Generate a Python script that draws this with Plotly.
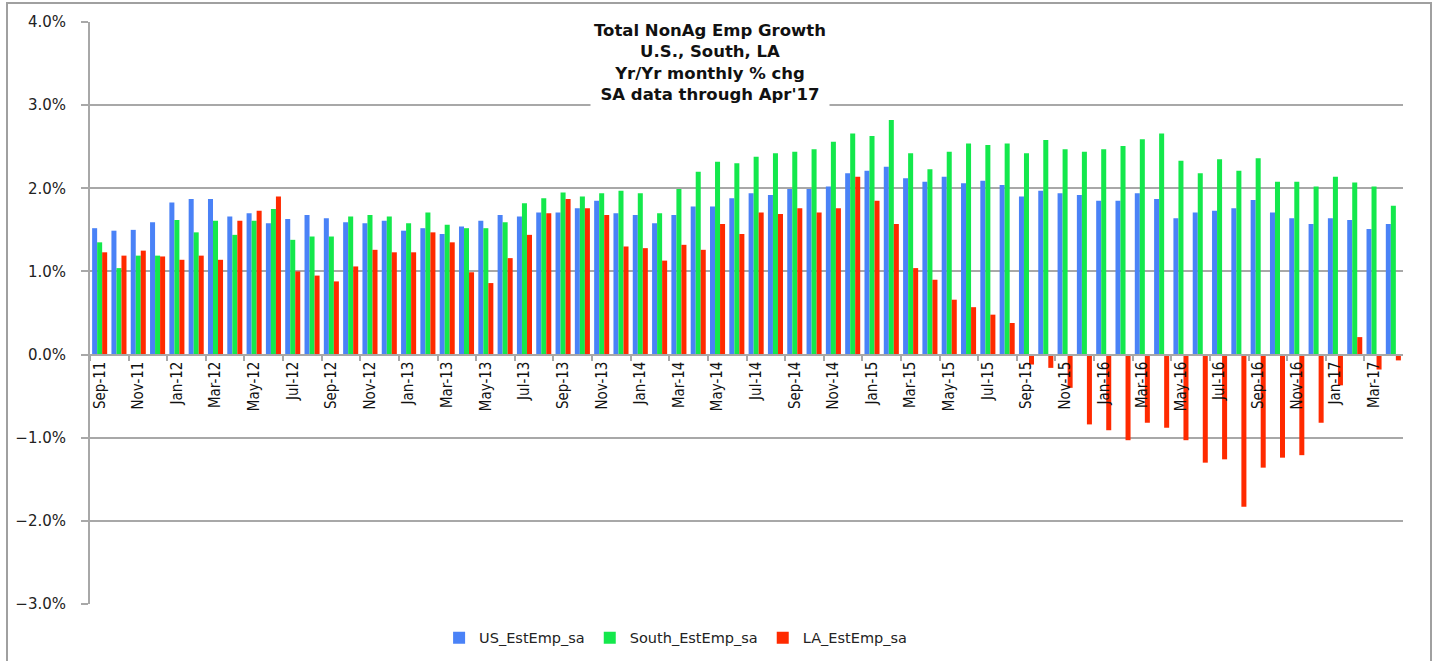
import plotly.graph_objects as go

months = [
    "Sep-11", "Oct-11", "Nov-11", "Dec-11",
    "Jan-12", "Feb-12", "Mar-12", "Apr-12", "May-12", "Jun-12", "Jul-12", "Aug-12", "Sep-12", "Oct-12", "Nov-12", "Dec-12",
    "Jan-13", "Feb-13", "Mar-13", "Apr-13", "May-13", "Jun-13", "Jul-13", "Aug-13", "Sep-13", "Oct-13", "Nov-13", "Dec-13",
    "Jan-14", "Feb-14", "Mar-14", "Apr-14", "May-14", "Jun-14", "Jul-14", "Aug-14", "Sep-14", "Oct-14", "Nov-14", "Dec-14",
    "Jan-15", "Feb-15", "Mar-15", "Apr-15", "May-15", "Jun-15", "Jul-15", "Aug-15", "Sep-15", "Oct-15", "Nov-15", "Dec-15",
    "Jan-16", "Feb-16", "Mar-16", "Apr-16", "May-16", "Jun-16", "Jul-16", "Aug-16", "Sep-16", "Oct-16", "Nov-16", "Dec-16",
    "Jan-17", "Feb-17", "Mar-17", "Apr-17",
]

us_emp = [
    1.52, 1.49, 1.50, 1.59,
    1.83, 1.87, 1.87, 1.66, 1.70, 1.58, 1.63, 1.68, 1.64, 1.59, 1.58, 1.61,
    1.49, 1.52, 1.45, 1.54, 1.61, 1.68, 1.66, 1.71, 1.71, 1.76, 1.85, 1.70,
    1.68, 1.58, 1.68, 1.78, 1.78, 1.88, 1.94, 1.92, 1.99, 1.99, 2.02, 2.18,
    2.21, 2.26, 2.12, 2.08, 2.14, 2.06, 2.09, 2.04, 1.90, 1.97, 1.94, 1.92,
    1.85, 1.85, 1.94, 1.87, 1.64, 1.71, 1.73, 1.76, 1.86, 1.71, 1.64, 1.57,
    1.64, 1.62, 1.51, 1.57,
]

south_emp = [
    1.35, 1.04, 1.19, 1.19,
    1.62, 1.47, 1.61, 1.44, 1.61, 1.75, 1.38, 1.42, 1.42, 1.66, 1.68, 1.66,
    1.58, 1.71, 1.56, 1.52, 1.52, 1.59, 1.82, 1.88, 1.95, 1.90, 1.94, 1.97,
    1.94, 1.70, 1.99, 2.20, 2.32, 2.30, 2.38, 2.42, 2.44, 2.47, 2.56, 2.66,
    2.63, 2.82, 2.42, 2.23, 2.44, 2.54, 2.52, 2.54, 2.42, 2.58, 2.47, 2.44,
    2.47, 2.51, 2.59, 2.66, 2.33, 2.18, 2.35, 2.21, 2.36, 2.08, 2.08, 2.02,
    2.14, 2.07, 2.02, 1.79,
]

la_emp = [
    1.23, 1.19, 1.25, 1.18,
    1.14, 1.19, 1.14, 1.61, 1.73, 1.90, 1.00, 0.95, 0.88, 1.06, 1.26, 1.23,
    1.23, 1.47, 1.35, 0.99, 0.86, 1.16, 1.44, 1.70, 1.87, 1.76, 1.68, 1.30,
    1.28, 1.13, 1.32, 1.26, 1.57, 1.45, 1.71, 1.69, 1.76, 1.71, 1.76, 2.14,
    1.85, 1.57, 1.04, 0.90, 0.66, 0.57, 0.48, 0.38, -0.12, -0.16, -0.40, -0.84,
    -0.91, -1.03, -0.82, -0.88, -1.03, -1.30, -1.26, -1.83, -1.36, -1.24, -1.21, -0.82,
    -0.37, 0.21, -0.18, -0.07,
]

series_names = ["US_EstEmp_sa", "South_EstEmp_sa", "LA_EstEmp_sa"]
series_colors = ["#4A82F7", "#14E84C", "#FF2A00"]

title_text = "Total NonAg Emp Growth<br>U.S., South, LA<br>Yr/Yr monthly % chg<br>SA data through Apr'17"

x_idx = list(range(len(months)))
y_min, y_max = -3, 4

fig = go.Figure()
for name, vals, col in zip(series_names, [us_emp, south_emp, la_emp], series_colors):
    fig.add_trace(go.Bar(x=x_idx, y=vals, name=name, marker=dict(color=col, line=dict(width=0))))

grid_col = "#A8A8A8"
fig.update_layout(
    width=1435, height=661,
    margin=dict(l=90, r=32, t=22, b=57, autoexpand=False),
    paper_bgcolor="white", plot_bgcolor="white",
    barmode="group", bargap=0.22, bargroupgap=0,
    showlegend=True,
    legend=dict(orientation="h", x=0.446, xanchor="center", y=-0.058, yanchor="middle",
                font=dict(family="DejaVu Sans, Verdana, sans-serif", size=14.5, color="#222"),
                itemwidth=30, traceorder="normal", tracegroupgap=0),
    xaxis=dict(
        range=[-0.5, len(months) - 0.5],
        anchor="free", position=(0 - y_min) / (y_max - y_min),
        automargin=False,
        showline=True, linecolor=grid_col, linewidth=2,
        showgrid=False, zeroline=False,
        tickmode="array", tickvals=x_idx[::2], ticktext=months[::2],
        tickangle=-90, ticks="", ticklen=0,
        tickfont=dict(family="Liberation Sans Narrow, DejaVu Sans Condensed, Arial Narrow, sans-serif",
                      size=15, color="#111"),
        minor=dict(tickmode="array", tickvals=[i - 0.5 for i in x_idx[::2]],
                   ticks="outside", ticklen=5, tickcolor=grid_col, tickwidth=2, showgrid=False),
    ),
    yaxis=dict(
        range=[y_min, y_max], dtick=1, tick0=0,
        tickformat=".1f", ticksuffix="%",
        automargin=False,
        showgrid=True, gridcolor=grid_col, gridwidth=2,
        showline=True, linecolor=grid_col, linewidth=2,
        ticks="outside", ticklen=7, tickcolor=grid_col, tickwidth=2,
        zeroline=False,
        ticklabelstandoff=12,
        tickfont=dict(family="DejaVu Sans, Verdana, sans-serif", size=15, color="#222"),
    ),
    shapes=[dict(type="rect", xref="paper", yref="paper",
                 x0=(7 - 90) / 1313, x1=(1431 - 90) / 1313,
                 y0=(604 - 664) / 582, y1=(604 - 3) / 582,
                 line=dict(color="#A0A0A0", width=2), fillcolor="rgba(0,0,0,0)", layer="below")],
    annotations=[dict(text="<b>" + title_text + "</b>", xref="paper", yref="paper",
                      x=(710 - 90) / 1313, y=(604 - 17) / 582, xanchor="center", yanchor="top",
                      showarrow=False, bgcolor="white", borderpad=3,
                      font=dict(family="DejaVu Sans, Verdana, sans-serif", size=16.5, color="#111"))],
)

fig.write_html("out.html", config={"displayModeBar": False},
               post_script="document.body.style.margin='0px';document.body.style.overflow='hidden';")
